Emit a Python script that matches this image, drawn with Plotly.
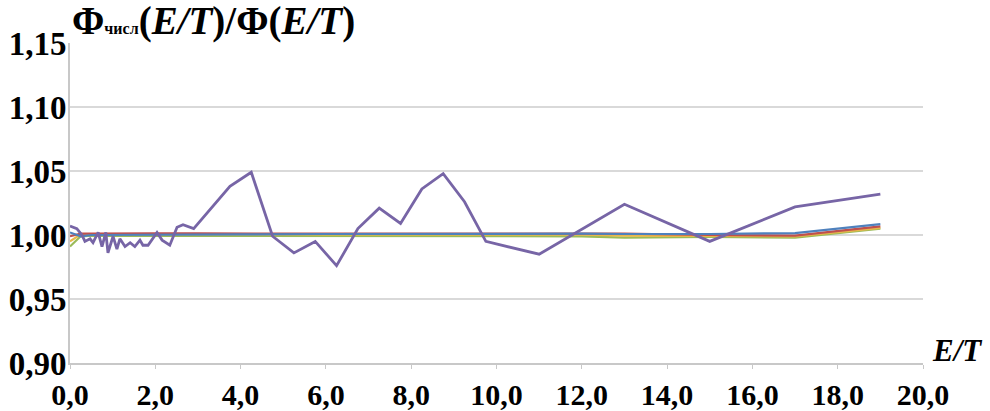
import plotly.graph_objects as go

# Purple (noisy) series
x_purple = [0.0, 0.16, 0.28, 0.35, 0.47, 0.54, 0.66, 0.75, 0.84, 0.89, 1.01, 1.10, 1.17,
            1.29, 1.41, 1.52, 1.64, 1.71, 1.83, 2.04, 2.16, 2.34, 2.51, 2.65, 2.90,
            3.75, 4.25, 4.75, 5.25, 5.75, 6.25, 6.75, 7.25, 7.75, 8.25, 8.75, 9.25, 9.75,
            11.0, 13.0, 15.0, 17.0, 19.0]
y_purple = [1.007, 1.005, 1.000, 0.995, 0.997, 0.994, 1.002, 0.991, 1.002, 0.986, 0.999, 0.989, 0.997,
            0.991, 0.994, 0.991, 0.996, 0.992, 0.992, 1.002, 0.996, 0.992, 1.006, 1.008, 1.005,
            1.038, 1.049, 0.999, 0.986, 0.995, 0.976, 1.005, 1.021, 1.009, 1.036, 1.048, 1.026, 0.995,
            0.985, 1.024, 0.995, 1.022, 1.032]

# Near-unity series
x_common = [0.0, 0.25, 0.5, 1.0, 2.0, 3.0, 4.0, 6.0, 8.0, 10.0, 12.0, 13.0, 15.0, 17.0, 19.0]
y_blue   = [1.002, 0.999, 1.000, 1.000, 1.000, 1.000, 1.0005, 1.0008, 1.001, 1.001, 1.001, 1.0008, 1.0008, 1.0015, 1.0085]
y_red    = [0.999, 1.001, 1.001, 1.0012, 1.0012, 1.0012, 1.0012, 1.0015, 1.0015, 1.0015, 1.0013, 1.001, 1.000, 0.9995, 1.0068]
y_orange = [0.995, 1.0005, 1.0005, 1.0005, 1.0003, 1.0003, 1.0003, 1.0005, 1.0005, 1.0005, 1.0003, 0.9995, 0.9992, 0.999, 1.0055]
y_green  = [0.991, 0.999, 0.9995, 0.9995, 0.9993, 0.9993, 0.9993, 0.9995, 0.9993, 0.9993, 0.999, 0.998, 0.9985, 0.998, 1.005]

x_ticks = [0, 2, 4, 6, 8, 10, 12, 14, 16, 18, 20]
y_ticks = [0.90, 0.95, 1.00, 1.05, 1.10, 1.15]

fig = go.Figure()
for ys, col in [(y_green, "#9BBB59"), (y_orange, "#E8B84A"), (y_red, "#C0504D"), (y_blue, "#4F81BD")]:
    fig.add_trace(go.Scatter(x=x_common, y=ys, mode="lines", line=dict(color=col, width=2.2), showlegend=False))
fig.add_trace(go.Scatter(x=x_purple, y=y_purple, mode="lines",
                         line=dict(color="#7765A6", width=2.8), showlegend=False))

yfont = dict(family="Liberation Serif", size=33, color="black", weight="bold")
xfont = dict(family="Liberation Serif", size=30, color="black", weight="bold")
fig.update_layout(
    width=990, height=411,
    margin=dict(l=70, r=67, t=43, b=48, autoexpand=False),
    plot_bgcolor="white", paper_bgcolor="white",
    separators=", ",
    xaxis=dict(range=[0, 20], tickvals=x_ticks, tickformat=".1f", showgrid=False,
               showline=True, linecolor="#c8c8c8", linewidth=2, automargin=False,
               ticks="outside", ticklen=4, tickcolor="#c8c8c8", tickfont=xfont,
               zeroline=False),
    yaxis=dict(range=[0.90, 1.15], tickvals=y_ticks, tickformat=".2f", showgrid=True,
               gridcolor="#d9d9d9", gridwidth=2, automargin=False,
               showline=True, linecolor="#c8c8c8", linewidth=2,
               ticks="", tickfont=yfont, zeroline=False, ticklabelstandoff=-5),
    annotations=[
        dict(text="<b>Φ<span style='font-size:16px'>числ</span>(<i>E/T</i>)/Φ(<i>E/T</i>)</b>",
             xref="paper", yref="paper",
             x=0.0, y=1.0, xanchor="left", yanchor="bottom", yshift=-2, showarrow=False,
             font=dict(family="Liberation Serif", size=39, color="black")),
        dict(text="<b><i>E/T</i></b>", xref="paper", yref="paper",
             x=1.04, y=0.04, xanchor="center", yanchor="middle", showarrow=False,
             font=dict(family="Liberation Serif", size=31, color="black")),
    ],
)
fig.write_html("out.html", config={"displayModeBar": False},
               post_script="document.body.style.margin='0';document.body.style.overflow='hidden';")
